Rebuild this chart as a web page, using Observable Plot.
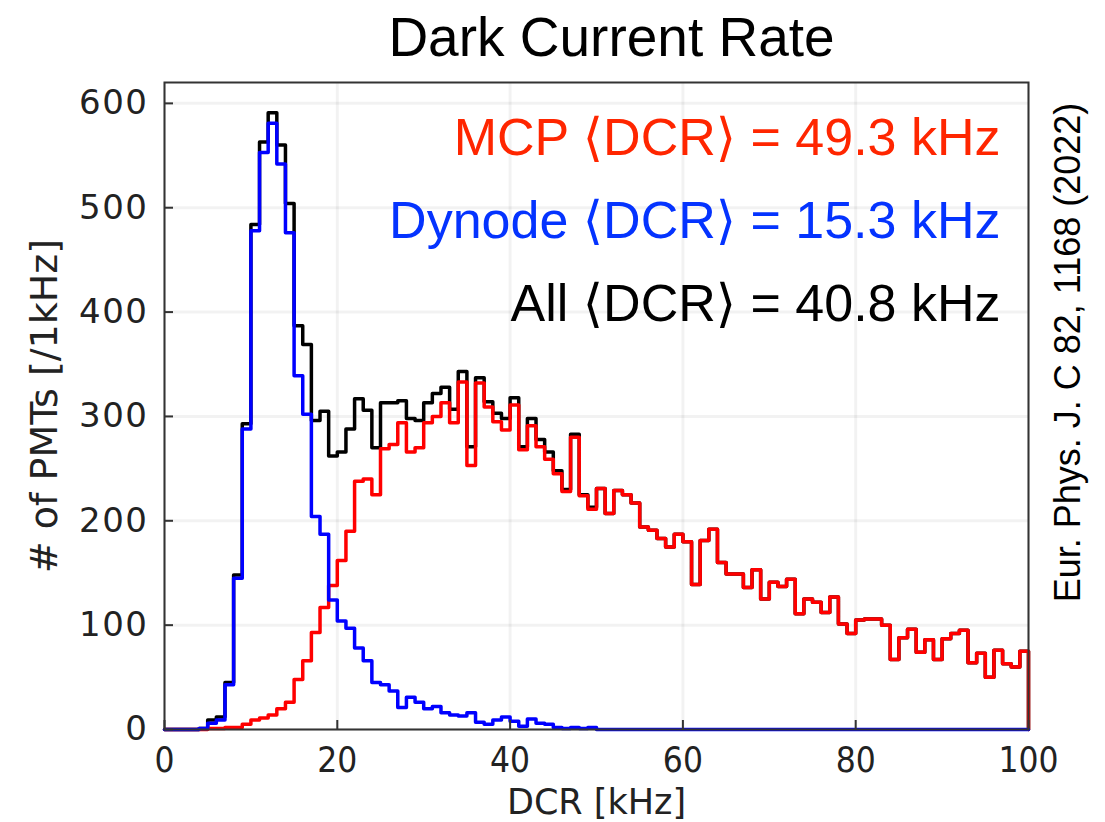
<!DOCTYPE html>
<html>
<head>
<meta charset="utf-8">
<script src="https://cdn.jsdelivr.net/npm/d3@7"></script>
<script src="https://cdn.jsdelivr.net/npm/@observablehq/plot@0.6"></script>
<style>
  html, body { margin: 0; padding: 0; background: #fff; }
  #chart svg { display: block; }
  g[aria-label="y-axis tick label"] { font-size: 34px; font-family: "DejaVu Sans", sans-serif; letter-spacing: 1.5px; fill: #222; }
  g[aria-label="x-axis tick label"] { font-size: 35px; font-family: "DejaVu Sans Condensed", "DejaVu Sans", sans-serif; font-stretch: condensed; fill: #222; }
  g[aria-label="x-axis label"] { font-size: 35px; font-family: "DejaVu Sans", sans-serif; fill: #222; }
  g[aria-label="y-axis label"] { font-size: 38px; font-family: "DejaVu Sans", sans-serif; fill: #222; }
</style>
</head>
<body>
<div id="chart"></div>
<script>
// Bin left edges, 1 kHz bins from 0 to 100 kHz
const binEdges = d3.range(0, 101);

// MCP PMTs (red), counts per 1 kHz bin, bins 0..99
const mcp = [
  0, 0, 0, 0, 0, 1, 1, 2, 2, 5,
  9, 11, 14, 20, 26, 48, 66, 93, 117, 138,
  162, 190, 238, 240, 225, 269, 273, 294, 266, 270,
  294, 300, 313, 294, 333, 253, 332, 309, 295, 287,
  311, 268, 291, 271, 259, 245, 228, 280, 224, 211,
  231, 207, 229, 225, 217, 194, 191, 183, 175, 187,
  180, 139, 181, 192, 160, 149, 149, 136, 153, 125,
  141, 137, 144, 111, 125, 122, 112, 127, 101, 92,
  105, 106, 106, 100, 67, 88, 96, 74, 86, 67,
  87, 92, 95, 64, 73, 50, 76, 63, 60, 75
];

// Dynode PMTs (blue), counts per 1 kHz bin, bins 0..99
const dynode = [
  0, 0, 0, 0, 1, 6, 9, 43, 145, 288,
  478, 553, 581, 542, 476, 339, 302, 204, 187, 124,
  104, 97, 78, 66, 45, 43, 37, 21, 31, 26,
  20, 22, 16, 14, 13, 16, 7, 5, 9, 12,
  8, 3, 10, 6, 5, 2, 1, 2, 1, 2,
  0, 0, 0, 0, 0, 0, 0, 0, 0, 0,
  0, 0, 0, 0, 0, 0, 0, 0, 0, 0,
  0, 0, 0, 0, 0, 0, 0, 0, 0, 0,
  0, 0, 0, 0, 0, 0, 0, 0, 0, 0,
  0, 0, 0, 0, 0, 0, 0, 0, 0, 0
];

// All PMTs (black), counts per 1 kHz bin, bins 0..99
const all = [
  0, 0, 0, 0, 1, 9, 12, 45, 148, 293,
  484, 563, 591, 560, 504, 387, 369, 296, 305, 262,
  266, 288, 317, 306, 270, 313, 313, 315, 298, 296,
  313, 322, 328, 307, 343, 271, 337, 314, 303, 298,
  318, 271, 298, 278, 266, 248, 230, 283, 225, 213,
  231, 207, 229, 225, 217, 194, 191, 183, 175, 187,
  180, 139, 181, 192, 160, 149, 149, 136, 153, 125,
  141, 137, 144, 111, 125, 122, 112, 127, 101, 92,
  105, 106, 106, 100, 67, 88, 96, 74, 86, 67,
  87, 92, 95, 64, 73, 50, 76, 63, 60, 75
];

const xTicks = [0, 20, 40, 60, 80, 100];
const yTicks = [0, 100, 200, 300, 400, 500, 600];

const titleText = "Dark Current Rate";
const legendLabels = [
  "MCP \u27E8DCR\u27E9 = 49.3 kHz",
  "Dynode \u27E8DCR\u27E9 = 15.3 kHz",
  "All \u27E8DCR\u27E9 = 40.8 kHz"
];
const legendColors = ["#ff2600", "#0433ff", "#000000"];
const citation = "Eur. Phys. J. C 82, 1168 (2022)";

// step outline: value of bin i held from edge i to edge i+1, closing to 0 at the last edge
function stepData(values) {
  return binEdges.map((x, i) => ({x, y: i < values.length ? values[i] : 0}));
}

const textFont = "'Liberation Sans', Arial, 'DejaVu Sans', sans-serif";

const chart = Plot.plot({
  width: 1105,
  height: 822,
  marginLeft: 164,
  marginRight: 77,
  marginTop: 82,
  marginBottom: 93,
  x: {domain: [0, 100]},
  y: {domain: [0, 620]},
  style: {fontFamily: "'DejaVu Sans', sans-serif", background: "#fff", color: "#222"},
  marks: [
    Plot.gridX(xTicks, {stroke: "#000", strokeOpacity: 0.05, strokeWidth: 3}),
    Plot.gridY(yTicks, {stroke: "#000", strokeOpacity: 0.05, strokeWidth: 3}),
    Plot.line(stepData(all), {x: "x", y: "y", curve: "step-after", stroke: "#000", strokeWidth: 3.5}),
    Plot.line(stepData(mcp), {x: "x", y: "y", curve: "step-after", stroke: "#ff0000", strokeWidth: 3.5}),
    Plot.line(stepData(dynode), {x: "x", y: "y", curve: "step-after", stroke: "#0000ff", strokeWidth: 3.5}),
    Plot.frame({stroke: "#333", strokeWidth: 2}),
    Plot.axisX(xTicks, {
      tickSize: -9, tickPadding: 27, stroke: "#333", strokeWidth: 2,
      label: "DCR [kHz]", labelAnchor: "center", labelArrow: "none", labelOffset: 84
    }),
    Plot.axisY(yTicks, {
      tickSize: -9, tickPadding: 25, stroke: "#333", strokeWidth: 2,
      label: "# of PMTs [/1kHz]", labelAnchor: "center", labelArrow: "none", labelOffset: 134
    }),
    Plot.text([titleText], {frameAnchor: "top", dx: 15, dy: -44, lineAnchor: "middle", fontSize: 55, fontFamily: textFont, fill: "#000"}),
    Plot.text([legendLabels[0]], {frameAnchor: "top-right", textAnchor: "end", lineAnchor: "middle", dx: -28, dy: 56, fontSize: 52, fontFamily: textFont, fill: legendColors[0]}),
    Plot.text([legendLabels[1]], {frameAnchor: "top-right", textAnchor: "end", lineAnchor: "middle", dx: -28, dy: 139, fontSize: 52, fontFamily: textFont, fill: legendColors[1]}),
    Plot.text([legendLabels[2]], {frameAnchor: "top-right", textAnchor: "end", lineAnchor: "middle", dx: -28, dy: 222, fontSize: 52, fontFamily: textFont, fill: legendColors[2]}),
    Plot.text([citation], {frameAnchor: "top-right", textAnchor: "middle", lineAnchor: "middle", rotate: -90, dx: 40, dy: 270, fontSize: 36, fontFamily: textFont, fill: "#000"})
  ]
});

document.getElementById("chart").appendChild(chart);
</script>
</body>
</html>
